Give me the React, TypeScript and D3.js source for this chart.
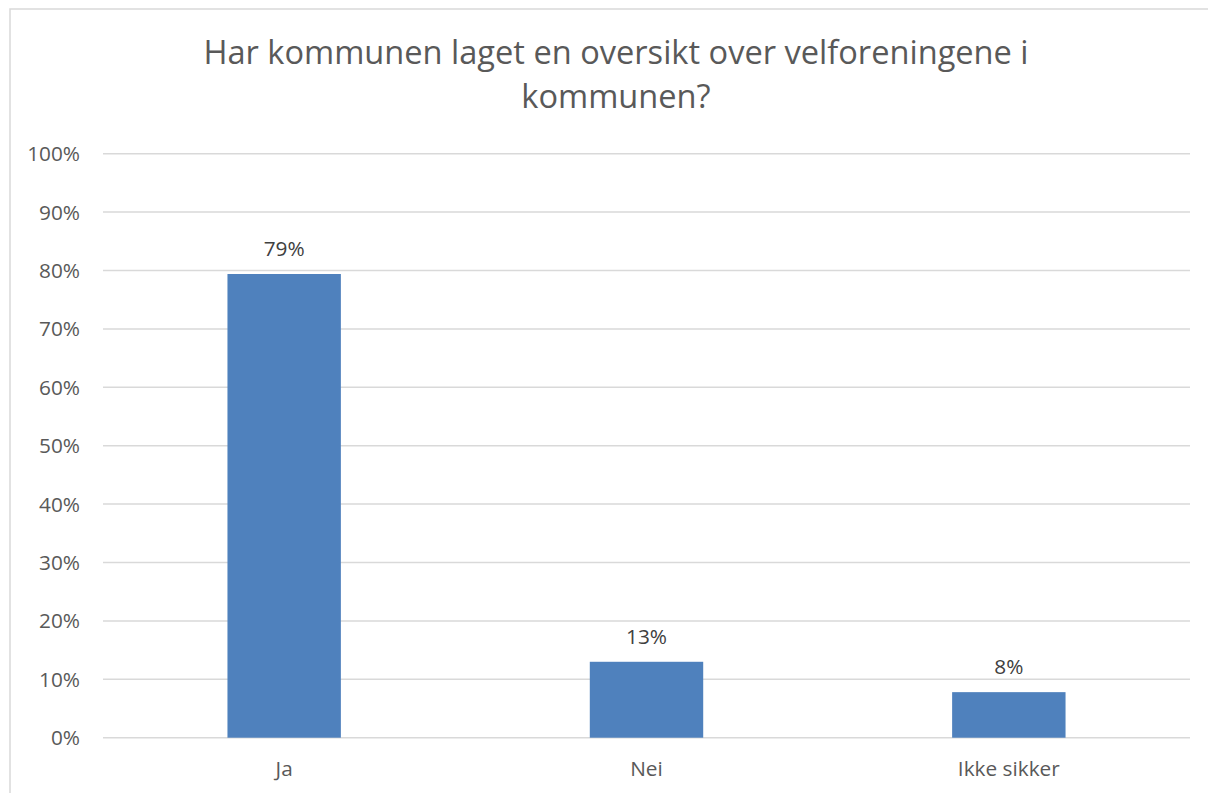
import React from "react";
import * as d3 from "d3";

const titleLines = ["Har kommunen laget en oversikt over velforeningene i", "kommunen?"];
const categories = ["Ja", "Nei", "Ikke sikker"];
const values = [0.794, 0.13, 0.078];
const valueLabels = ["79%", "13%", "8%"];
const yTicks = [0, 0.1, 0.2, 0.3, 0.4, 0.5, 0.6, 0.7, 0.8, 0.9, 1.0];

const W = 1208;
const H = 793;
const left = 103;
const right = 1190;
const top = 153.7;
const bottom = 737.7;
const font = "'Open Sans', sans-serif";
const textColor = "#595959";

export default function App() {
  const x = d3.scaleBand<string>().domain(categories).range([left, right]).paddingInner(0.687).paddingOuter(0.3435);
  const y = d3.scaleLinear().domain([0, 1]).range([bottom, top]);
  const fmt = d3.format(".0%");
  return (
    <svg width={W} height={H} style={{ position: "absolute", left: 0, top: 0, background: "#fff" }}>
      <rect x={10} y={9} width={W} height={H} fill="#fff" stroke="#d9d9d9" strokeWidth={1.5} />
      {titleLines.map((t, i) => (
        <text key={i} x={616} y={64 + i * 44} textAnchor="middle" fontFamily={font} fontSize={32.6} fill={textColor}>
          {t}
        </text>
      ))}
      {yTicks.map((t) => (
        <g key={t}>
          <line x1={left} x2={right} y1={y(t)} y2={y(t)} stroke="#d9d9d9" strokeWidth={1.5} />
          <text x={80} y={y(t) + 7.5} textAnchor="end" fontFamily={font} fontSize={20.8} fill={textColor}>
            {fmt(t)}
          </text>
        </g>
      ))}
      {categories.map((c, i) => (
        <g key={c}>
          <rect x={x(c)} y={y(values[i])} width={x.bandwidth()} height={bottom - y(values[i])} fill="#4f81bd" />
          <text x={x(c)! + x.bandwidth() / 2} y={y(values[i]) - 18} textAnchor="middle" fontFamily={font} fontSize={20.8} fill="#404040">
            {valueLabels[i]}
          </text>
          <text x={x(c)! + x.bandwidth() / 2} y={776} textAnchor="middle" fontFamily={font} fontSize={20.8} fill={textColor}>
            {c}
          </text>
        </g>
      ))}
    </svg>
  );
}
